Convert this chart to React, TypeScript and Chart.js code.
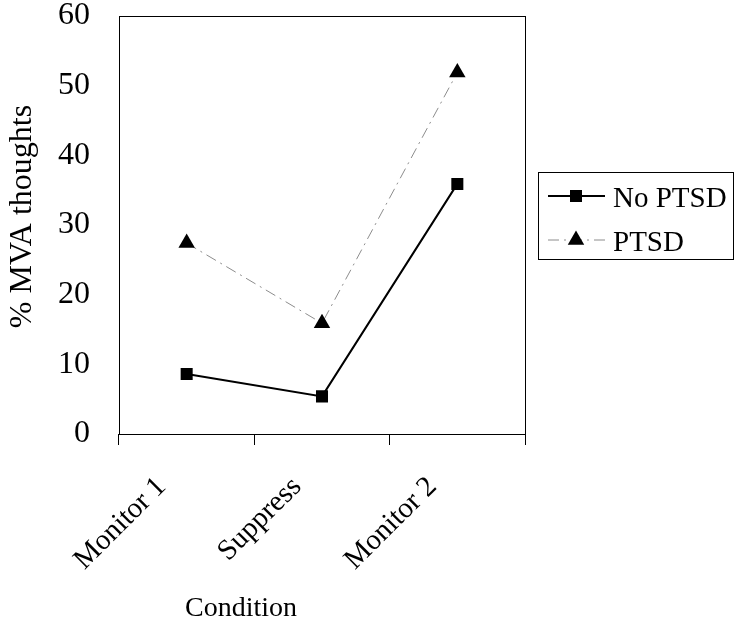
import { useEffect, useRef } from "react";
import { Chart, registerables } from "chart.js";

Chart.register(...registerables);

const categories = ["Monitor 1", "Suppress", "Monitor 2"];
const seriesNames = ["No PTSD", "PTSD"];
const noPtsdValues = [8.6, 5.4, 35.9];
const ptsdValues = [27.4, 15.9, 51.9];
const yMin = 0;
const yMax = 60;
const yStep = 10;
const xTitle = "Condition";
const yTitle = "% MVA thoughts";

const FONT = "'Liberation Serif', 'Times New Roman', serif";

function drawMarker(ctx: CanvasRenderingContext2D, style: string, x: number, y: number, r: number) {
  ctx.beginPath();
  if (style === "triangle") {
    let rad = 0;
    ctx.moveTo(x + Math.sin(rad) * r, y - Math.cos(rad) * r);
    rad += (2 * Math.PI) / 3;
    ctx.lineTo(x + Math.sin(rad) * r, y - Math.cos(rad) * r);
    rad += (2 * Math.PI) / 3;
    ctx.lineTo(x + Math.sin(rad) * r, y - Math.cos(rad) * r);
    ctx.closePath();
  } else {
    const s = r / Math.SQRT2;
    ctx.rect(x - s, y - s, 2 * s, 2 * s);
  }
  ctx.fillStyle = "#000";
  ctx.fill();
}

const framePlugin = {
  id: "frame",
  beforeDatasetsDraw(chart: any) {
    const { ctx, chartArea } = chart;
    ctx.save();
    ctx.strokeStyle = "#000";
    ctx.lineWidth = 1;
    ctx.strokeRect(
      Math.round(chartArea.left) + 0.5,
      Math.round(chartArea.top) + 0.5,
      Math.round(chartArea.right - chartArea.left),
      Math.round(chartArea.bottom - chartArea.top)
    );
    ctx.restore();
  },
};

const titlesPlugin = {
  id: "axisTitles",
  afterDraw(chart: any) {
    const { ctx } = chart;
    ctx.save();
    ctx.fillStyle = "#000";
    ctx.font = `28px ${FONT}`;
    ctx.textAlign = "center";
    ctx.textBaseline = "alphabetic";
    ctx.fillText(xTitle, 241, 616);
    ctx.font = `32px ${FONT}`;
    ctx.translate(31, 216.5);
    ctx.rotate(-Math.PI / 2);
    ctx.fillText(yTitle, 0, 0);
    ctx.restore();
  },
};

const legendPlugin = {
  id: "boxLegend",
  afterDraw(chart: any) {
    const { ctx, chartArea } = chart;
    const left = Math.round(chartArea.right) + 13;
    const top = 172;
    const w = 195;
    const h = 87;
    ctx.save();
    ctx.strokeStyle = "#000";
    ctx.lineWidth = 1;
    ctx.strokeRect(left + 0.5, top + 0.5, w, h);
    const rows = [
      { lineY: 196, textY: 207 },
      { lineY: 240, textY: 251 },
    ];
    chart.data.datasets.forEach((ds: any, i: number) => {
      const row = rows[i];
      ctx.save();
      ctx.strokeStyle = ds.borderColor;
      ctx.lineWidth = ds.borderWidth;
      ctx.setLineDash(ds.borderDash || []);
      ctx.beginPath();
      ctx.moveTo(left + 10, row.lineY);
      ctx.lineTo(left + 67, row.lineY);
      ctx.stroke();
      ctx.restore();
      drawMarker(ctx, ds.pointStyle, left + 38, row.lineY, ds.pointRadius);
      ctx.fillStyle = "#000";
      ctx.font = `29px ${FONT}`;
      ctx.textAlign = "left";
      ctx.textBaseline = "alphabetic";
      ctx.fillText(ds.label, left + 75, row.textY);
    });
    ctx.restore();
  },
};

export default function App() {
  const ref = useRef<HTMLCanvasElement | null>(null);

  useEffect(() => {
    if (!ref.current) return;
    const chart = new Chart(ref.current, {
      type: "line",
      data: {
        labels: categories,
        datasets: [
          {
            label: seriesNames[0],
            data: noPtsdValues,
            borderColor: "#000",
            borderWidth: 2,
            pointStyle: "rect",
            pointRadius: 8.5,
            pointBackgroundColor: "#000",
            pointBorderWidth: 0,
            pointBorderColor: "#000",
            fill: false,
            tension: 0,
          },
          {
            label: seriesNames[1],
            data: ptsdValues,
            borderColor: "#8c8c8c",
            borderWidth: 1,
            borderDash: [11, 5, 2, 5],
            pointStyle: "triangle",
            pointRadius: 9.5,
            pointBackgroundColor: "#000",
            pointBorderWidth: 0,
            pointBorderColor: "#000",
            fill: false,
            tension: 0,
          },
        ],
      },
      options: {
        responsive: false,
        animation: false,
        layout: { padding: { top: 16, right: 215, left: 0, bottom: 0 } },
        plugins: {
          legend: { display: false },
          tooltip: { enabled: false },
          title: { display: false },
        },
        scales: {
          x: {
            type: "category",
            offset: true,
            border: { display: false },
            grid: {
              offset: true,
              drawOnChartArea: false,
              drawTicks: true,
              tickLength: 11,
              color: "#000",
              lineWidth: 1,
            },
            ticks: {
              autoSkip: false,
              maxRotation: 45,
              minRotation: 45,
              padding: 25,
              labelOffset: -25,
              color: "#000",
              font: { family: FONT, size: 29 },
            },
            afterFit(scale: any) {
              scale.height = 188;
              scale.paddingLeft = 0;
              scale.paddingRight = 0;
            },
          },
          y: {
            min: yMin,
            max: yMax,
            border: { display: false },
            grid: { display: false, drawTicks: false },
            ticks: {
              stepSize: yStep,
              padding: 29,
              color: "#000",
              font: { family: FONT, size: 32 },
            },
            afterFit(scale: any) {
              scale.width = 119;
              scale.paddingTop = 0;
              scale.paddingBottom = 0;
            },
          },
        },
      },
      plugins: [framePlugin, titlesPlugin, legendPlugin],
    });
    return () => chart.destroy();
  }, []);

  return (
    <div style={{ position: "fixed", left: 0, top: 0, width: 740, height: 622, background: "#fff" }}>
      <canvas ref={ref} width={740} height={622} style={{ display: "block" }} />
    </div>
  );
}
